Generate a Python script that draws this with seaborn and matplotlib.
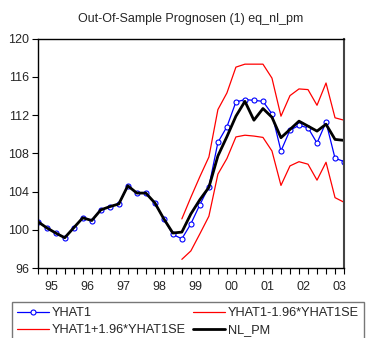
import numpy as np
import pandas as pd
import matplotlib
matplotlib.use("Agg")
import matplotlib.pyplot as plt
import seaborn as sns

# quarterly observations 1995Q1 .. 2003Q3
quarters = pd.period_range("1995Q1", "2003Q3", freq="Q").astype(str).tolist()

nl_pm = [100.86, 100.21, 99.66, 99.17, 100.21, 101.25, 100.97, 102.08, 102.42, 102.70,
         104.60, 103.84, 103.84, 102.81, 101.14, 99.66, 99.76, 101.66, 103.15, 104.44,
         107.72, 109.74, 111.88, 113.43, 111.46, 112.68, 111.77, 109.63, 110.49, 111.36,
         110.84, 110.32, 111.04, 109.45, 109.35]

yhat1 = [100.86, 100.21, 99.66, 99.17, 100.21, 101.25, 100.97, 102.08, 102.42, 102.70,
         104.60, 103.84, 103.84, 102.81, 101.14, 99.51, 99.06, 100.62, 102.63, 104.50,
         109.14, 110.77, 113.37, 113.61, 113.54, 113.43, 112.12, 108.24, 110.42, 110.91,
         110.67, 109.07, 111.25, 107.48, 107.14]

# forecast bands only from 1999Q1
upper = [np.nan] * 16 + [101.14, 103.40, 105.56, 107.61, 112.57, 114.31, 117.01, 117.32,
                         117.32, 117.32, 115.86, 111.88, 114.03, 114.73, 114.66, 113.02,
                         115.35, 111.71, 111.46]
lower = [np.nan] * 16 + [96.91, 97.79, 99.58, 101.42, 105.82, 107.45, 109.71, 109.89,
                         109.80, 109.66, 108.24, 104.64, 106.68, 107.12, 106.86, 105.19,
                         107.06, 103.36, 102.88]

year_labels = ["95", "96", "97", "98", "99", "00", "01", "02", "03"]

df = pd.DataFrame({"t": np.arange(len(quarters)), "YHAT1": yhat1, "NL_PM": nl_pm,
                   "UP": upper, "LO": lower})

sns.set_style("ticks")
plt.rcParams["font.family"] = ["Liberation Sans", "DejaVu Sans"]
plt.rcParams["font.size"] = 9

fig = plt.figure(figsize=(3.66, 3.38), dpi=100)
ax = fig.add_axes([0.103, 0.207, 0.837, 0.679])

sns.lineplot(data=df, x="t", y="YHAT1", color="#0000ff", linewidth=0.9, marker="o",
             markersize=3.6, markerfacecolor="white", markeredgecolor="#0000ff",
             markeredgewidth=0.8, ax=ax, label="YHAT1")
sns.lineplot(data=df, x="t", y="LO", color="#ff0000", linewidth=0.9, ax=ax,
             label="YHAT1-1.96*YHAT1SE")
sns.lineplot(data=df, x="t", y="UP", color="#ff0000", linewidth=0.9, ax=ax,
             label="YHAT1+1.96*YHAT1SE")
sns.lineplot(data=df, x="t", y="NL_PM", color="black", linewidth=2.0, ax=ax,
             label="NL_PM")

ax.set_xlim(0, len(quarters) - 1)
ax.set_ylim(96, 120)
ax.set_yticks([96, 100, 104, 108, 112, 116, 120])
ax.set_xticks(df["t"])
ax.set_xticklabels([])
ax.set_xticks([1.5 + 4 * i for i in range(len(year_labels))], minor=True)
ax.set_xticklabels(year_labels, minor=True)
ax.tick_params(axis="x", which="major", length=4, width=0.8, color="black")
ax.tick_params(axis="x", which="minor", length=0, pad=9, labelsize=9)
ax.tick_params(axis="y", length=4, width=0.8, color="black", labelsize=9, pad=2)
ax.set_xlabel("")
ax.set_ylabel("")
for s in ax.spines.values():
    s.set_color("black")
    s.set_linewidth(1.0)
ax.spines["right"].set_color("#444444")
ax.spines["right"].set_linewidth(1.5)

ax.set_title("Out-Of-Sample Prognosen (1) eq_nl_pm", fontsize=9, pad=12)

handles, labels = ax.get_legend_handles_labels()
ax.get_legend().remove()
order = [0, 2, 1, 3]
leg = fig.legend([handles[i] for i in order], [labels[i] for i in order],
                 loc="upper left", bbox_to_anchor=(12 / 366, 1 - 302 / 338), ncol=2,
                 fontsize=9.2, frameon=True, fancybox=False, handlelength=2.5,
                 handletextpad=0.25, columnspacing=0.5, borderpad=0.4, labelspacing=0.42,
                 borderaxespad=0)
leg.get_frame().set_edgecolor("#555555")
leg.get_frame().set_linewidth(1.0)

fig.savefig("out.png", dpi=100)
